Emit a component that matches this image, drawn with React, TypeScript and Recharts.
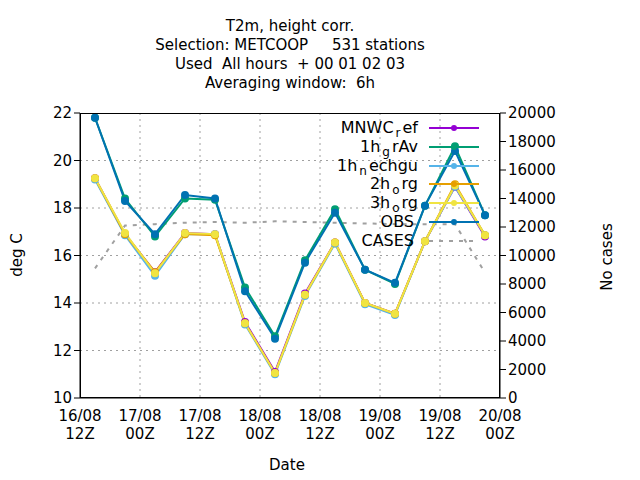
import { LineChart, Line, XAxis, YAxis, CartesianGrid } from 'recharts';

const hours = [3, 9, 15, 21, 27, 33, 39, 45, 51, 57, 63, 69, 75, 81];
const mnwcRef = [19.25, 16.9, 15.3, 16.95, 16.9, 13.2, 11.1, 14.4, 16.55, 14.0, 13.55, 16.6, 18.9, 16.8];
const grAv = [21.8, 18.4, 16.8, 18.4, 18.35, 14.65, 12.6, 15.8, 17.95, 15.4, 14.8, 18.1, 20.6, 17.7];
const nechgu = [19.2, 16.85, 15.15, 16.9, 16.9, 13.1, 11.0, 14.3, 16.5, 13.95, 13.5, 16.6, 18.9, 16.85];
const org2 = [19.25, 16.9, 15.3, 16.9, 16.85, 13.15, 11.05, 14.35, 16.55, 14.0, 13.55, 16.6, 19.0, 16.85];
const org3 = [19.25, 16.95, 15.25, 16.95, 16.9, 13.15, 11.05, 14.35, 16.55, 14.0, 13.55, 16.6, 18.95, 16.85];
const obs = [21.8, 18.3, 16.9, 18.55, 18.4, 14.5, 12.5, 15.7, 17.8, 15.4, 14.85, 18.1, 20.4, 17.7];
const cases = [9100, 12100, 12200, 12300, 12350, 12300, 12400, 12350, 12300, 12250, 12200, 12200, 12200, 8800];

const xTicks = [0, 12, 24, 36, 48, 60, 72, 84];
const xTickDays = ['16/08', '17/08', '17/08', '18/08', '18/08', '19/08', '19/08', '20/08'];
const xTickHours = ['12Z', '00Z', '12Z', '00Z', '12Z', '00Z', '12Z', '00Z'];
const leftTicks = [10, 12, 14, 16, 18, 20, 22];
const rightTicks = [0, 2000, 4000, 6000, 8000, 10000, 12000, 14000, 16000, 18000, 20000];
const titleLines = ['T2m, height corr.', 'Selection: METCOOP     531 stations', 'Used  All hours  + 00 01 02 03', 'Averaging window:  6h'];

const series = [
  { key: 'mnwc', name: ['MNWC', 'r', 'ef'], color: '#9400d3', vals: mnwcRef },
  { key: 'grav', name: ['1h', 'g', 'rAv'], color: '#009e73', vals: grAv },
  { key: 'nech', name: ['1h', 'n', 'echgu'], color: '#56b4e9', vals: nechgu },
  { key: 'org2', name: ['2h', 'o', 'rg'], color: '#e69f00', vals: org2 },
  { key: 'org3', name: ['3h', 'o', 'rg'], color: '#f0e442', vals: org3 },
  { key: 'obs', name: ['OBS', '', ''], color: '#0072b2', vals: obs },
];

const data = hours.map((h, i) => {
  const row: Record<string, number> = { h, cases: cases[i] };
  series.forEach((s) => (row[s.key] = s.vals[i]));
  return row;
});

const font = 'DejaVu Sans, sans-serif';

function XTick({ x, y, index }: any) {
  return (
    <text x={x} y={y + 10} textAnchor="middle" fontSize={15} fill="#000" fontFamily={font}>
      <tspan x={x} dy="0.71em">{xTickDays[index]}</tspan>
      <tspan x={x} dy="1.25em">{xTickHours[index]}</tspan>
    </text>
  );
}

export default function App() {
  return (
    <div style={{ position: 'absolute', left: 0, top: 0, width: 640, height: 480, fontFamily: font, background: '#fff' }}>
      {titleLines.map((t, i) => (
        <div key={i} style={{ position: 'absolute', left: 0, width: 580, top: 17 + i * 19, textAlign: 'center', fontSize: 15, whiteSpace: 'pre' }}>{t}</div>
      ))}
      <LineChart width={640} height={480} data={data} margin={{ top: 113, right: 60, left: 20, bottom: 32 }}>
        <CartesianGrid yAxisId="l" stroke="#a0a0a0" strokeDasharray="2 4" verticalPoints={[140, 200, 260, 320, 380, 440]} horizontalPoints={[160.5, 208, 255.5, 303, 350.5]} />
        <XAxis dataKey="h" type="number" domain={[0, 84]} ticks={xTicks} tick={<XTick />} height={50} stroke="#000" tickSize={0} interval={0} />
        <YAxis yAxisId="l" domain={[10, 22]} ticks={leftTicks} width={60} stroke="#000" tick={{ fontSize: 15, fill: '#000' }} tickSize={6} />
        <YAxis yAxisId="r" orientation="right" domain={[0, 20000]} ticks={rightTicks} width={80} stroke="#000" tick={{ fontSize: 15, fill: '#000', textAnchor: 'start' }} tickSize={6} />
        <Line yAxisId="r" dataKey="cases" stroke="#a0a0a0" strokeWidth={2} strokeDasharray="4 6" dot={false} isAnimationActive={false} />
        {series.map((s) => (
          <Line key={s.key} yAxisId="l" dataKey={s.key} stroke={s.color} strokeWidth={2} dot={{ r: 3, fill: s.color, stroke: s.color }} isAnimationActive={false} />
        ))}
      </LineChart>
      <div style={{ position: 'absolute', left: 80, top: 113, width: 420, height: 285, border: '1px solid #000', boxSizing: 'border-box', pointerEvents: 'none' }} />
      {[...series.map((s) => ({ name: s.name, color: s.color, dash: false })), { name: ['CASES', '', ''], color: '#a0a0a0', dash: true }].map((s, i) => (
        <div key={i} style={{ position: 'absolute', left: 300, top: 118 + i * 18.8, width: 180, height: 19, fontSize: 16 }}>
          <div style={{ position: 'absolute', right: 62, top: 0, whiteSpace: 'pre' }}>
            {s.name[0]}<sub style={{ fontSize: 12, margin: '0 2px' }}>{s.name[1]}</sub>{s.name[2]}
          </div>
          <svg style={{ position: 'absolute', left: 128, top: 0 }} width={52} height={20}>
            <line x1={1} x2={51} y1={10} y2={10} stroke={s.color} strokeWidth={2} strokeDasharray={s.dash ? '4 6' : undefined} />
            {!s.dash && <circle cx={26} cy={10} r={3} fill={s.color} />}
          </svg>
        </div>
      ))}
      <div style={{ position: 'absolute', left: 17, top: 255, transform: 'translate(-50%,-50%) rotate(-90deg)', fontSize: 15, whiteSpace: 'nowrap' }}>deg C</div>
      <div style={{ position: 'absolute', left: 607, top: 257, transform: 'translate(-50%,-50%) rotate(-90deg)', fontSize: 15, whiteSpace: 'nowrap' }}>No cases</div>
      <div style={{ position: 'absolute', left: 287, top: 465, transform: 'translate(-50%,-50%)', fontSize: 15 }}>Date</div>
    </div>
  );
}
